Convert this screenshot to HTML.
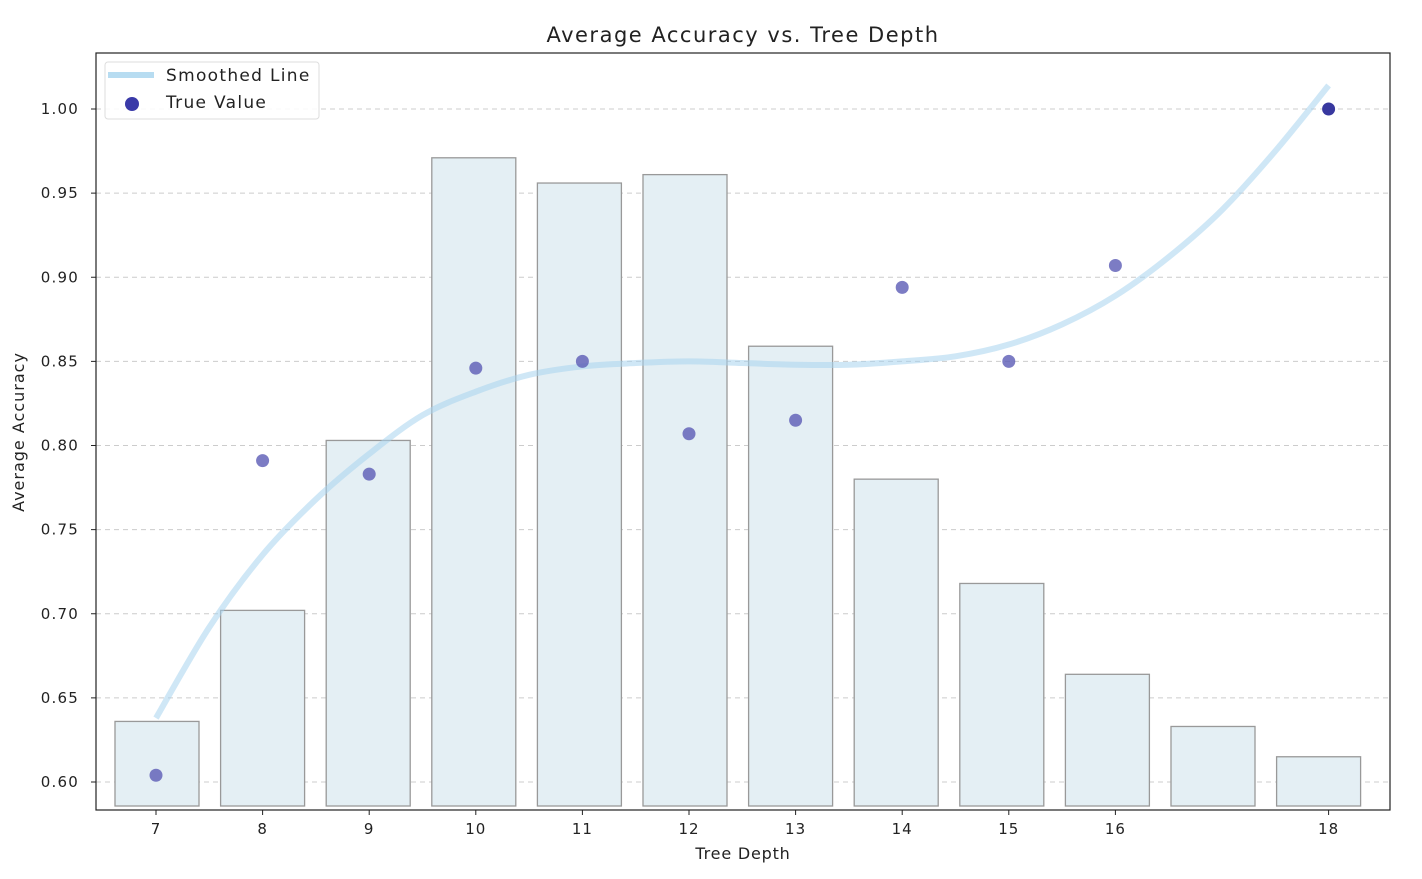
<!DOCTYPE html>
<html><head><meta charset="utf-8">
<style>
body{margin:0;background:#fff;font-family:"DejaVu Sans","Liberation Sans",sans-serif;}
svg text{font-family:"DejaVu Sans","Liberation Sans",sans-serif;fill:#222;}
</style></head>
<body>
<svg id="chart" width="1422" height="875" xmlns="http://www.w3.org/2000/svg"></svg>
<script>
const barCategories=[7,8,9,10,11,12,13,14,15,16,17,18];
const barValues=[0.636,0.702,0.803,0.971,0.956,0.961,0.859,0.780,0.718,0.664,0.633,0.615];
const pointDepths=[7,8,9,10,11,12,13,14,15,16,18];
const pointValues=[0.604,0.791,0.783,0.846,0.850,0.807,0.815,0.894,0.850,0.907,1.000];
const smoothX=[7,7.5,8,8.5,9,9.5,10,10.5,11,11.5,12,12.5,13,13.5,14,14.5,15,15.5,16,16.5,17,17.5,18];
const smoothY=[0.638,0.692,0.735,0.768,0.795,0.818,0.832,0.842,0.847,0.849,0.850,0.849,0.848,0.848,0.850,0.853,0.860,0.872,0.889,0.912,0.940,0.975,1.014];
const yTicks=[0.60,0.65,0.70,0.75,0.80,0.85,0.90,0.95,1.00];
const xTicks=[7,8,9,10,11,12,13,14,15,16,18];

const svg=document.getElementById('chart');
const NS='http://www.w3.org/2000/svg';
const L=96,R=1390,T=53,B=810;
const y=v=>782-(v-0.60)*1682.5;
const x=v=>156+(v-7)*106.6;
const xb=i=>157+i*105.6;
function mk(tag,attrs,parent){const e=document.createElementNS(NS,tag);for(const k in attrs)e.setAttribute(k,attrs[k]);(parent||svg).appendChild(e);return e;}

yTicks.forEach(t=>{
  const g=mk('line',{x1:L,x2:R,y1:y(t),y2:y(t),stroke:'#ccc','stroke-dasharray':'5,4','stroke-width':1});
  
  
});
barValues.forEach((v,i)=>{
  const r=mk('rect',{x:xb(i)-42,y:y(v),width:84,height:806-y(v),fill:'#e4eff4',stroke:'#999','stroke-width':1.3});
  
  
});
const pts=smoothX.map((d,i)=>[x(d),y(smoothY[i])]);
let dstr='M'+pts[0][0]+','+pts[0][1];
for(let i=0;i<pts.length-1;i++){
  const p0=pts[Math.max(0,i-1)],p1=pts[i],p2=pts[i+1],p3=pts[Math.min(pts.length-1,i+2)];
  dstr+=' C'+(p1[0]+(p2[0]-p0[0])/6)+','+(p1[1]+(p2[1]-p0[1])/6)+' '+(p2[0]-(p3[0]-p1[0])/6)+','+(p2[1]-(p3[1]-p1[1])/6)+' '+p2[0]+','+p2[1];
}
const sl=mk('path',{d:dstr,fill:'none',stroke:'#a8d4ee','stroke-width':6,'stroke-opacity':0.55,'stroke-linecap':'butt'});


pointValues.forEach((v,i)=>{
  const last=i===pointValues.length-1;
  const c=mk('circle',{cx:x(pointDepths[i]),cy:y(v),r:6.5,fill:last?'#2d2d9a':'#5b5bb5','fill-opacity':last?0.95:0.8});
  
  
});
const fr=mk('rect',{x:L,y:T,width:R-L,height:B-T,fill:'none',stroke:'#222','stroke-width':1.2});


yTicks.forEach(t=>{
  mk('line',{x1:L-5,x2:L,y1:y(t),y2:y(t),stroke:'#222'});
  const tx=mk('text',{x:L-17,y:y(t)+5,'text-anchor':'end','font-size':15,'letter-spacing':'1.2'});
  tx.textContent=t.toFixed(2);
  
  
});
xTicks.forEach(t=>{
  mk('line',{x1:x(t),x2:x(t),y1:B,y2:B+5,stroke:'#222'});
  const tx=mk('text',{x:x(t),y:B+24,'text-anchor':'middle','font-size':15,'letter-spacing':'1'});
  tx.textContent=t;
  
  
});
</script>
<svg style="position:absolute;left:0;top:0" width="1422" height="875" xmlns="http://www.w3.org/2000/svg">
<text x="743" y="42" text-anchor="middle" font-size="21" letter-spacing="1.5">Average Accuracy vs. Tree Depth</text>
<text x="743" y="859" text-anchor="middle" font-size="16" letter-spacing="0.8">Tree Depth</text>
<text transform="translate(24,432) rotate(-90)" text-anchor="middle" font-size="16" letter-spacing="1">Average Accuracy</text>
<g>
<rect x="105" y="62" width="214" height="57" rx="3" fill="#fff" fill-opacity="0.85" stroke="#ddd"/>
<line x1="108" x2="154" y1="75" y2="75" stroke="#b7dcf1" stroke-width="6"/>
<text x="166" y="81" font-size="17" letter-spacing="1.3">Smoothed Line</text>
<circle cx="132" cy="104" r="7" fill="#3a3aa8"/>
<text x="166" y="108" font-size="17" letter-spacing="1.3">True Value</text>
</g>
</svg>
</body></html>
